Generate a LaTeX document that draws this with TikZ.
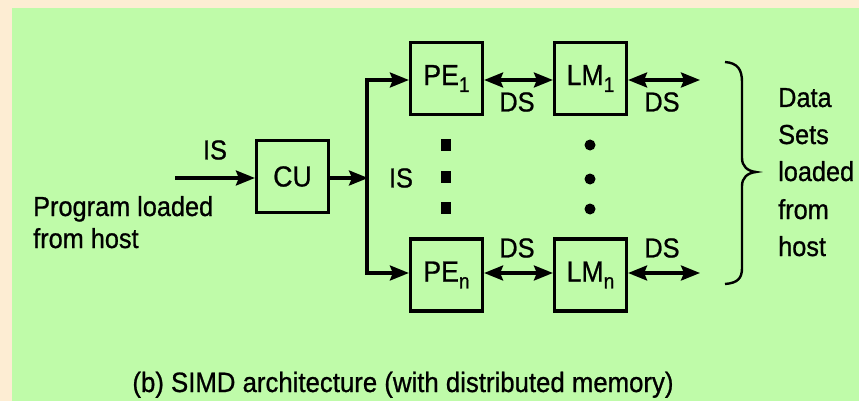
\documentclass[tikz,border=0pt]{standalone}
\usepackage{fontspec}
\setmainfont[FakeBold=0.8,FakeStretch=0.92]{Liberation Sans}
\usetikzlibrary{arrows.meta}
\definecolor{cream}{HTML}{FDEDD3}
\definecolor{bggreen}{HTML}{BFFBA9}
\begin{document}
\begin{tikzpicture}[x=1pt,y=-1pt,
  lab/.style={font=\fontsize{27.5}{30}\selectfont, inner sep=0pt},
  unit/.style={draw, line width=3.2pt, minimum width=72pt, minimum height=72pt, inner sep=0pt, font=\fontsize{29}{30}\selectfont},
  tip/.tip={Stealth[length=19pt,width=15pt,inset=3pt]},
  conn/.style={line width=3.2pt, -tip},
  bconn/.style={line width=3.2pt, tip-tip},
  sq/.style={fill=black, minimum width=10pt, minimum height=12pt, inner sep=0pt},
  rd/.style={fill=black, circle, minimum size=11pt, inner sep=0pt}]
\newcommand{\sbx}[1]{\raisebox{-0.45ex}{\fontsize{21}{21}\selectfont #1}}
\useasboundingbox (0,0) rectangle (859,401);
\fill[cream] (0,0) rectangle (859,401);
\fill[bggreen] (12,8) rectangle (859,401);

% boxes
\node[unit] (CU) at (292.5,176.5) {CU};
\node[unit] (PE1) at (446.5,78.5) {PE\sbx{1}};
\node[unit] (PEn) at (446.5,275) {PE\sbx{n}};
\node[unit] (LM1) at (590.5,78.5) {LM\sbx{1}};
\node[unit] (LMn) at (590.5,275) {LM\sbx{n}};

% coordinates
\coordinate (in) at (175,178);
\coordinate (split) at (368,178);
\coordinate (top) at (367,80);
\coordinate (bot) at (367,273);
\coordinate (out1) at (700,80);
\coordinate (outn) at (700,273);

% connectors
\draw[conn] (in) -- (in -| CU.west);
\draw[conn] (CU.east |- split) -- (split);
\draw[line width=3.2pt] ([yshift=1.6pt]top) -- ([yshift=-1.6pt]bot);
\draw[conn] (top) -- (top -| PE1.west);
\draw[conn] (bot) -- (bot -| PEn.west);
\draw[bconn] (PE1.east |- top) -- (LM1.west |- top);
\draw[bconn] (PEn.east |- bot) -- (LMn.west |- bot);
\draw[bconn] (LM1.east |- out1) -- (out1);
\draw[bconn] (LMn.east |- outn) -- (outn);

% labels
\node[lab] (isin) at (215,150) {IS};
\node[lab] (isv) at (401,178) {IS};
\node[lab] (ds1) at (517,102) {DS};
\node[lab] (ds2) at (662,102) {DS};
\node[lab] (ds3) at (517,248) {DS};
\node[lab] (ds4) at (662,248) {DS};

% dots
\node[sq] (p1) at (446,145) {};
\node[sq] (p2) at (446,177) {};
\node[sq] (p3) at (446,208) {};
\node[rd] (l1) at (590,145) {};
\node[rd] (l2) at (590,179) {};
\node[rd] (l3) at (590,209) {};

% program text
\node[lab, anchor=base west] (prog1) at (33,216) {Program loaded};
\node[lab, anchor=base west] (prog2) at (33,248) {from host};

% brace
\draw[line width=2.4pt] (725,62) .. controls (738,63) and (742,70) .. (742,82) -- (742,158)
  .. controls (742,166) and (747,171) .. (756,172)
  .. controls (747,173) and (742,178) .. (742,186) -- (742,268)
  .. controls (742,278) and (738,283) .. (725,284);

% data sets text
\node[lab, anchor=base west] (d1) at (778,107) {Data};
\node[lab, anchor=base west] (d2) at (778,144) {Sets};
\node[lab, anchor=base west] (d3) at (778,181) {loaded};
\node[lab, anchor=base west] (d4) at (778,219) {from};
\node[lab, anchor=base west] (d5) at (778,256) {host};

% caption
\node[lab, font=\fontsize{28}{30}\selectfont, anchor=base] (cap) at (403,392) {(b) SIMD architecture (with distributed memory)};
\end{tikzpicture}
\end{document}
